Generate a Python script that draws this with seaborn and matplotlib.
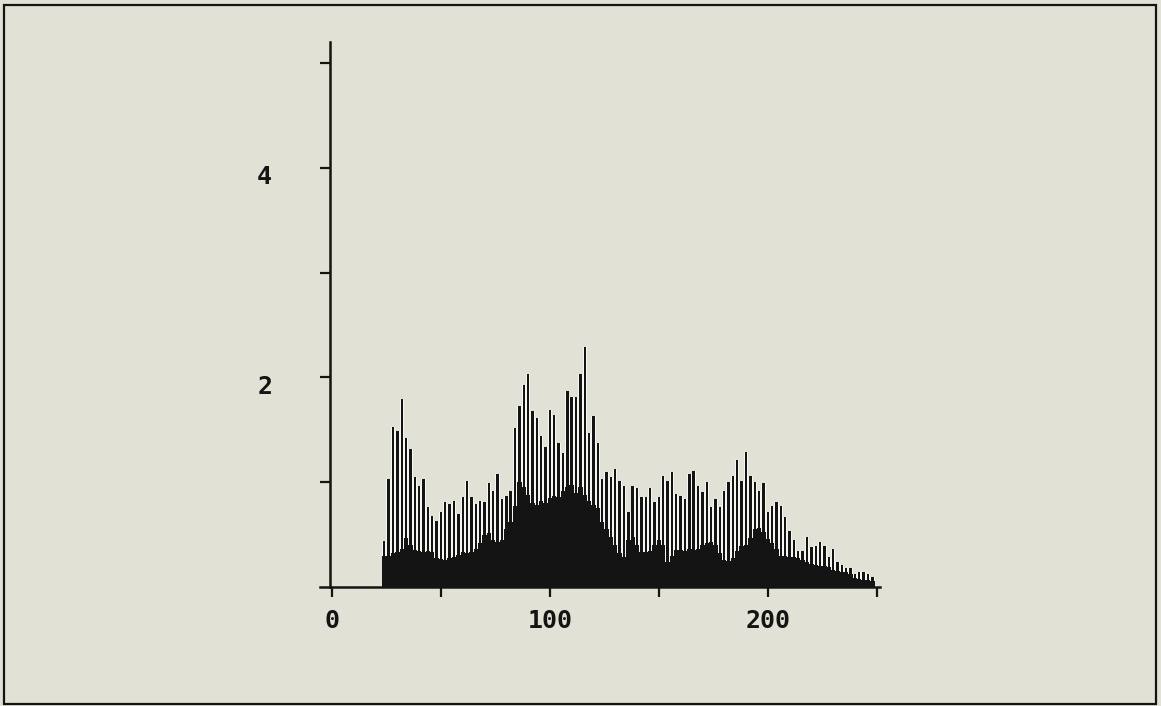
import numpy as np
import pandas as pd
import matplotlib
matplotlib.use("Agg")
import matplotlib.pyplot as plt
import matplotlib.transforms as mtransforms
from matplotlib.patches import Rectangle
import seaborn as sns

# grey level positions (every second level carries counts)
levels = list(range(24, 250, 2))

# tall comb of the histogram (thin spikes)
spikes = [0.44, 1.03, 1.53, 1.49, 1.79, 1.42, 1.32, 1.05, 0.96, 1.03, 0.76, 0.68, 0.63, 0.72,
          0.81, 0.79, 0.82, 0.70, 0.86, 1.01, 0.86, 0.79, 0.82, 0.81, 0.99, 0.92, 1.08,
          0.84, 0.87, 0.92, 1.52, 1.73, 1.93, 2.03, 1.68, 1.61, 1.44, 1.34, 1.69, 1.64, 1.37,
          1.28, 1.87, 1.81, 1.81, 2.03, 2.29, 1.47, 1.63, 1.37, 1.03, 1.10, 1.05, 1.13,
          1.01, 0.96, 0.72, 0.96, 0.94, 0.86, 0.86, 0.94, 0.81, 0.86, 1.06, 1.01, 1.10, 0.89,
          0.87, 0.84, 1.08, 1.11, 0.96, 0.91, 1.00, 0.76, 0.84, 0.76, 0.92, 1.00, 1.06, 1.21,
          1.01, 1.29, 1.06, 1.00, 0.92, 0.99, 0.72, 0.77, 0.81, 0.77, 0.67, 0.53, 0.45, 0.34,
          0.34, 0.48, 0.38, 0.39, 0.43, 0.39, 0.29, 0.36, 0.24, 0.21, 0.18, 0.18, 0.12, 0.14,
          0.14, 0.12, 0.10]

# solid lower series
solid = [0.30, 0.30, 0.32, 0.33, 0.36, 0.47, 0.40, 0.35, 0.34, 0.33, 0.34, 0.33, 0.28, 0.27,
         0.26, 0.28, 0.29, 0.31, 0.33, 0.32, 0.33, 0.36, 0.42, 0.50, 0.52, 0.45, 0.43,
         0.45, 0.55, 0.62, 0.77, 1.00, 0.95, 0.88, 0.80, 0.78, 0.82, 0.80, 0.85, 0.87, 0.86,
         0.92, 0.95, 0.97, 0.90, 0.95, 0.88, 0.82, 0.78, 0.75, 0.62, 0.55, 0.48, 0.40,
         0.32, 0.29, 0.45, 0.48, 0.40, 0.33, 0.33, 0.34, 0.40, 0.45, 0.40, 0.24, 0.30, 0.35,
         0.35, 0.34, 0.36, 0.35, 0.36, 0.40, 0.42, 0.43, 0.40, 0.32, 0.26, 0.25, 0.28, 0.34,
         0.39, 0.40, 0.47, 0.55, 0.56, 0.52, 0.46, 0.42, 0.36, 0.30, 0.30, 0.29, 0.29, 0.28,
         0.26, 0.24, 0.22, 0.21, 0.20, 0.20, 0.19, 0.16, 0.15, 0.14, 0.14, 0.12, 0.09, 0.08,
         0.07, 0.07, 0.06]

xticks = [0, 50, 100, 150, 200, 250]
xlabels = ["0", "", "100", "", "200", ""]
yticks = [1, 2, 3, 4, 5]
ylabels = ["", "2", "", "4", ""]

df = pd.DataFrame({"level": levels, "spike": spikes, "solid": solid})
bins = [float(b) for b in range(23, 251, 2)]

bg = "#E1E1D5"
ink = "#141414"

sns.set_style("white")
plt.rcParams["font.family"] = ["DejaVu Sans Mono", "DejaVu Sans"]

fig = plt.figure(figsize=(11.61, 7.06), dpi=100, facecolor=bg)
ax = fig.add_axes([320 / 1161, (706 - 587) / 706, 560 / 1161, 545 / 706])
ax.set_facecolor(bg)

# pale columns behind spikes (scanner glare between the lines)
sns.histplot(df, x="level", weights="spike", bins=bins,
             color="#F7F7F1", alpha=1, linewidth=0, shrink=1.0, ax=ax)
# thin black spikes
sns.histplot(df, x="level", weights="spike", bins=bins,
             color=ink, alpha=1, linewidth=0, shrink=0.55, ax=ax)
# solid lower mass
sns.histplot(df, x="level", weights="solid", bins=bins,
             element="step", color=ink, alpha=1, linewidth=0, ax=ax)

ax.set_xlim(-5.5, 251.5)
ax.set_ylim(0, 5.2)
ax.set_xlabel("")
ax.set_ylabel("")

for s in ["top", "right"]:
    ax.spines[s].set_visible(False)
ax.spines["left"].set_position(("data", -1))
for s in ["left", "bottom"]:
    ax.spines[s].set_color(ink)
    ax.spines[s].set_linewidth(1.8)

ax.set_xticks(xticks)
ax.set_xticklabels(xlabels)
ax.set_yticks(yticks)
ax.set_yticklabels(ylabels)
ax.tick_params(axis="both", direction="out", length=7.5, width=1.6, color=ink,
               labelcolor=ink, labelsize=18, bottom=True, left=True)
ax.tick_params(axis="x", pad=8)
ax.tick_params(axis="y", pad=34)
for lab in ax.get_xticklabels() + ax.get_yticklabels():
    lab.set_fontweight("bold")
offset = mtransforms.ScaledTranslation(0, -7 / 100, fig.dpi_scale_trans)
for lab in ax.get_yticklabels():
    lab.set_transform(lab.get_transform() + offset)

# frame around the whole figure
fig.patches.append(Rectangle((4 / 1161, 2 / 706), 1152 / 1161, 699 / 706,
                             transform=fig.transFigure, fill=False,
                             edgecolor=ink, linewidth=1.6))

fig.savefig("out.png", dpi=100, facecolor=bg)
